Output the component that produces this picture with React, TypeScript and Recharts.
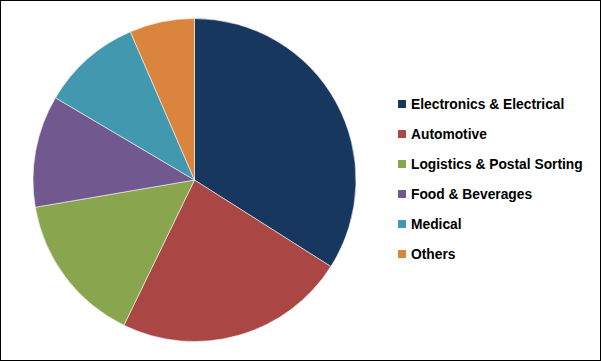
import React from "react";
import { PieChart, Pie, Cell, Legend } from "recharts";

const sectors = [
  "Electronics & Electrical",
  "Automotive",
  "Logistics & Postal Sorting",
  "Food & Beverages",
  "Medical",
  "Others",
];
const shares = [34, 23.2, 15.1, 11.2, 10, 6.5];
const colors = ["#17375E", "#AA4643", "#89A54E", "#71588F", "#4198AF", "#DB843D"];

const data = sectors.map((name, i) => ({ name, value: shares[i] }));

// legend drawn in data order (recharts would sort it by name)
const renderLegend = () => (
  <div>
    {sectors.map((name, i) => (
      <div key={name} style={{ display: "flex", alignItems: "center", height: 30 }}>
        <span
          style={{
            width: 8,
            height: 8,
            background: colors[i],
            marginRight: 5,
            display: "inline-block",
          }}
        />
        <span
          style={{
            fontFamily: "'Liberation Sans', Arial, sans-serif",
            fontWeight: "bold",
            fontSize: 13.8,
            color: "#000",
          }}
        >
          {name}
        </span>
      </div>
    ))}
  </div>
);

export default function App() {
  return (
    <div
      style={{
        position: "absolute",
        left: 0,
        top: 0,
        width: 601,
        height: 361,
        boxSizing: "border-box",
        border: "1px solid #000",
        background: "#fff",
      }}
    >
      <PieChart width={599} height={359} style={{ position: "absolute", left: 0, top: 0 }}>
        <Pie
          data={data}
          dataKey="value"
          nameKey="name"
          cx={188.5}
          cy={174}
          outerRadius={161.5}
          startAngle={90}
          endAngle={-270}
          stroke="#f4f4f4"
          strokeWidth={0.6}
          isAnimationActive={false}
        >
          {data.map((d, i) => (
            <Cell key={d.name} fill={colors[i]} />
          ))}
        </Pie>
        <Legend
          content={renderLegend}
          layout="vertical"
          wrapperStyle={{ left: 397, top: 88, width: 200 }}
        />
      </PieChart>
    </div>
  );
}
